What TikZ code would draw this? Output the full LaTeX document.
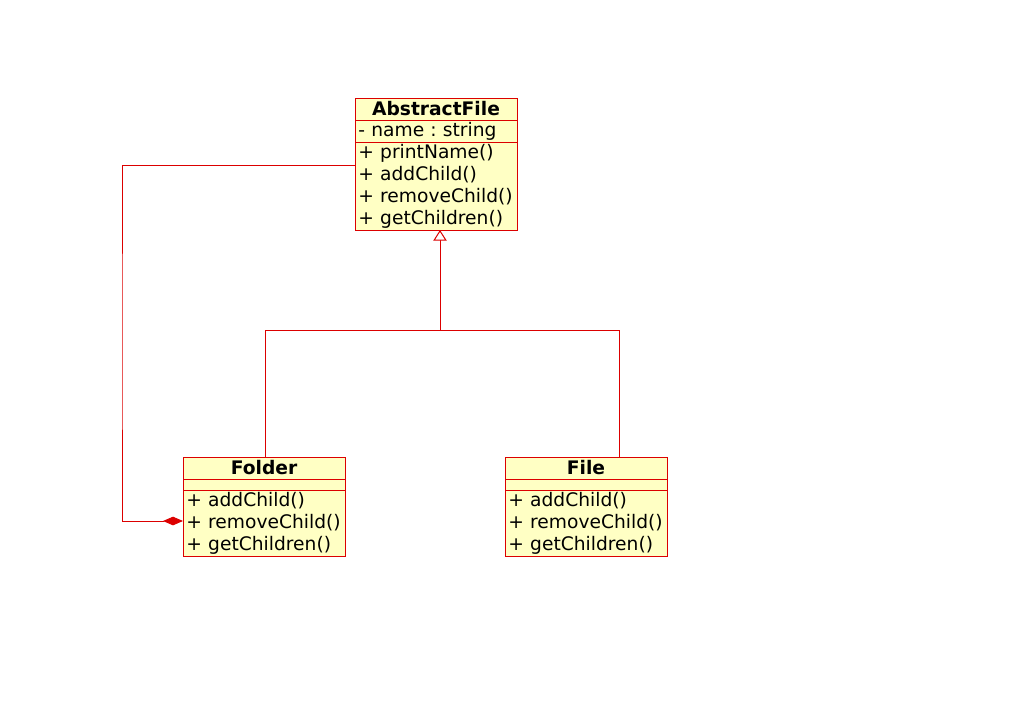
\documentclass[tikz,border=0pt]{standalone}
\usepackage{fontspec}
\setmainfont{DejaVu Sans}
\usepackage{tikz}
\usetikzlibrary{arrows.meta,positioning}

\definecolor{umlred}{RGB}{220,0,0}
\definecolor{umlfill}{RGB}{255,255,196}

\begin{document}
\frenchspacing
\hyphenpenalty=10000
\hbadness=10000
\hfuzz=20pt
\begin{tikzpicture}[
      x=0.75pt, y=-0.75pt,
      cls/.style={draw=umlred, fill=umlfill, line width=0.75pt, outer sep=0pt, minimum width=121.5pt, inner xsep=2.5pt, inner ysep=0pt, anchor=north west, font=\fontsize{14}{16.5}\selectfont},
      clshead/.style={cls, minimum height=16.5pt, font=\fontsize{14}{16.5}\selectfont\bfseries},
      clsbody/.style={cls, text width=116.5pt, align=left},
      assoc/.style={draw=umlred, line width=0.75pt},
      generalization/.style={assoc, -{Triangle[open, length=8pt, width=10pt, fill=white]}},
      composition/.style={assoc, -{Diamond[length=15pt, width=6.5pt, fill=umlred]}},
    ]
    \useasboundingbox (0,0) rectangle (1030,703);

    % AbstractFile
    \node[clshead] (abstractHead) at (355,98) {AbstractFile};
    \node[clsbody, minimum height=16.5pt, below=0pt of abstractHead] (abstractAttr) {- name : string};
    \node[clsbody, minimum height=66pt, below=0pt of abstractAttr] (abstractOps)
      {+ printName()\\+ addChild()\\+ removeChild()\\+ getChildren()};

    % Folder
    \node[clshead] (folderHead) at (183,457) {Folder};
    \node[clsbody, minimum height=8.25pt, below=0pt of folderHead] (folderAttr) {};
    \node[clsbody, minimum height=49.5pt, below=0pt of folderAttr] (folderOps)
      {+ addChild()\\+ removeChild()\\+ getChildren()};

    % File
    \node[clshead] (fileHead) at (505,457) {File};
    \node[clsbody, minimum height=8.25pt, below=0pt of fileHead] (fileAttr) {};
    \node[clsbody, minimum height=49.5pt, below=0pt of fileAttr] (fileOps)
      {+ addChild()\\+ removeChild()\\+ getChildren()};

    % connectors
    \coordinate (split) at (440,330);
    \coordinate (bendLeft) at (122,340);
    \draw[generalization] ([xshift=1pt]folderHead.north) |- (split) -- ([xshift=3pt]abstractOps.south);
    \draw[assoc] ([xshift=24.75pt]fileHead.north) |- (split);
    \draw[composition] ([yshift=-17.25pt]abstractOps.north west) -| (bendLeft)
      |- ([yshift=-23.25pt]folderOps.north west);
  \end{tikzpicture}
\end{document}
